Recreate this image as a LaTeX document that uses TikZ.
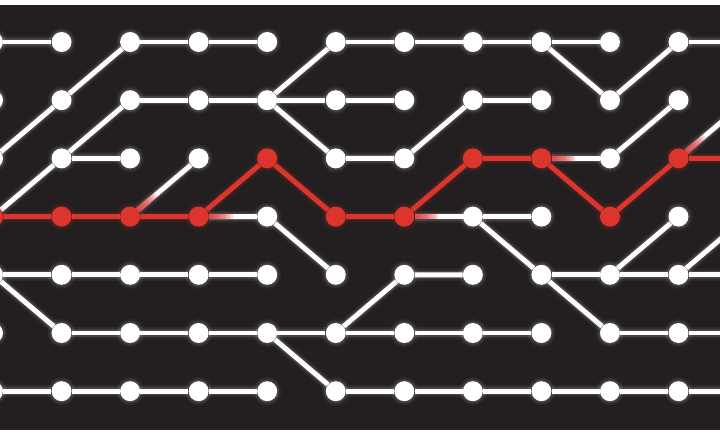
\documentclass[tikz,border=0pt]{standalone}
\usetikzlibrary{calc}
\definecolor{board}{HTML}{231F20}
\definecolor{hot}{HTML}{DC352E}
\pgfdeclarelayer{background}
\pgfdeclarelayer{wires}
\pgfsetlayers{background,wires,main}

\begin{document}
\begin{tikzpicture}[
  x=0.75pt, y=-0.75pt,
  joint/.style={circle, fill=#1, minimum size=15pt, inner sep=0pt,
    preaction={draw=#1, line width=6pt, opacity=.05},
    preaction={draw=#1, line width=3pt, opacity=.1}},
  dot/.style={joint=white},
  hotdot/.style={joint=hot},
  wire/.style={draw=#1, line width=3.7pt,
    preaction={draw=#1, line width=9pt, opacity=.05},
    preaction={draw=#1, line width=6pt, opacity=.12}},
  wire/.default=white,
  tint/.style={draw=hot, line width=3.7pt, opacity=.2}
]
\useasboundingbox (0,0) rectangle (720,435);
\begin{pgfonlayer}{background}
\fill[white] (0,0) rectangle (720,435);
\fill[board] (0,5) rectangle (720,430);
\end{pgfonlayer}

% grid of joints
\foreach \j in {0,1,4,5,6}
  \foreach \i in {0,...,11}
    \node[dot] (d\i-\j) at ({-7+68.55*\i},{42+58.2*\j}) {};
\foreach \i in {0,1,2,3,5,6,9}
  \node[dot] (d\i-2) at ({-7+68.55*\i},{42+58.2*2}) {};
\foreach \i in {4,7,8,10,11}
  \node[hotdot] (d\i-2) at ({-7+68.55*\i},{42+58.2*2}) {};
\foreach \i in {4,7,8,10,11}
  \node[dot] (d\i-3) at ({-7+68.55*\i},{42+58.2*3}) {};
\foreach \i in {0,1,2,3,5,6,9}
  \node[hotdot] (d\i-3) at ({-7+68.55*\i},{42+58.2*3}) {};

\begin{pgfonlayer}{wires}
% row 0
\draw[wire] (d0-0) -- (d1-0);
\draw[wire] (d2-0) -- (d3-0) -- (d4-0);
\draw[wire] (d5-0) -- (d6-0) -- (d7-0) -- (d8-0) -- (d9-0);
\draw[wire] (d10-0) -- (d11-0);
\draw[wire] (d2-0) -- (d1-1) -- (d0-2);
\draw[wire] (d5-0) -- (d4-1);
\draw[wire] (d8-0) -- (d9-1) -- (d10-0);
% row 1
\draw[wire] (d2-1) -- (d3-1) -- (d4-1) -- (d5-1) -- (d6-1);
\draw[wire] (d7-1) -- (d8-1);
\draw[wire] (d2-1) -- (d1-2) -- (d0-3);
\draw[wire] (d4-1) -- (d5-2) -- (d6-2) -- (d7-1);
\draw[wire] (d10-1) -- (d9-2);
\draw[wire] (d11-1) -- (d10-2);
% row 2
\draw[wire] (d1-2) -- (d2-2);
\draw[wire] (d3-2) -- (d2-3);
\draw[wire] (d8-2) -- (d9-2);
% row 3
\draw[wire] (d3-3) -- (d4-3) -- (d5-4);
\draw[wire] (d6-3) -- (d7-3) -- (d8-3);
\draw[wire] (d7-3) -- (d8-4) -- (d9-5);
\draw[wire] (d10-3) -- (d9-4);
\draw[wire] (d11-3) -- (d10-4);
% row 4
\draw[wire] (d0-4) -- (d1-4) -- (d2-4) -- (d3-4) -- (d4-4);
\draw[wire] (d0-4) -- (d1-5);
\draw[wire] (d5-5) -- (d6-4) -- (d7-4);
\draw[wire] (d8-4) -- (d9-4) -- (d10-4) -- (d11-4);
% row 5
\draw[wire] (d1-5) -- (d2-5) -- (d3-5) -- (d4-5) -- (d5-5) -- (d6-5)
  -- (d7-5) -- (d8-5);
\draw[wire] (d4-5) -- (d5-6);
\draw[wire] (d9-5) -- (d10-5) -- (d11-5);
% row 6
\draw[wire] (d0-6) -- (d1-6) -- (d2-6) -- (d3-6) -- (d4-6);
\draw[wire] (d5-6) -- (d6-6) -- (d7-6) -- (d8-6) -- (d9-6) -- (d10-6)
  -- (d11-6);

% the lit route
\draw[wire=hot] (d0-3) -- (d1-3) -- (d2-3) -- (d3-3) -- (d4-2) -- (d5-3)
  -- (d6-3) -- (d7-2) -- (d8-2) -- (d9-3) -- (d10-2) -- (d11-2);
\foreach \k in {1,...,9} {
  \draw[tint] (d2-3) -- ($(d2-3)!{7.5pt+2pt*\k}!(d3-2)$);
  \draw[tint] (d3-3) -- ($(d3-3)!{7.5pt+2pt*\k}!(d4-3)$);
  \draw[tint] (d6-3) -- ($(d6-3)!{7.5pt+2pt*\k}!(d7-3)$);
  \draw[tint] (d8-2) -- ($(d8-2)!{7.5pt+2pt*\k}!(d9-2)$);
  \draw[tint] (d10-2) -- ($(d10-2)!{7.5pt+2pt*\k}!(d11-1)$);
}
\end{pgfonlayer}
\end{tikzpicture}
\end{document}
